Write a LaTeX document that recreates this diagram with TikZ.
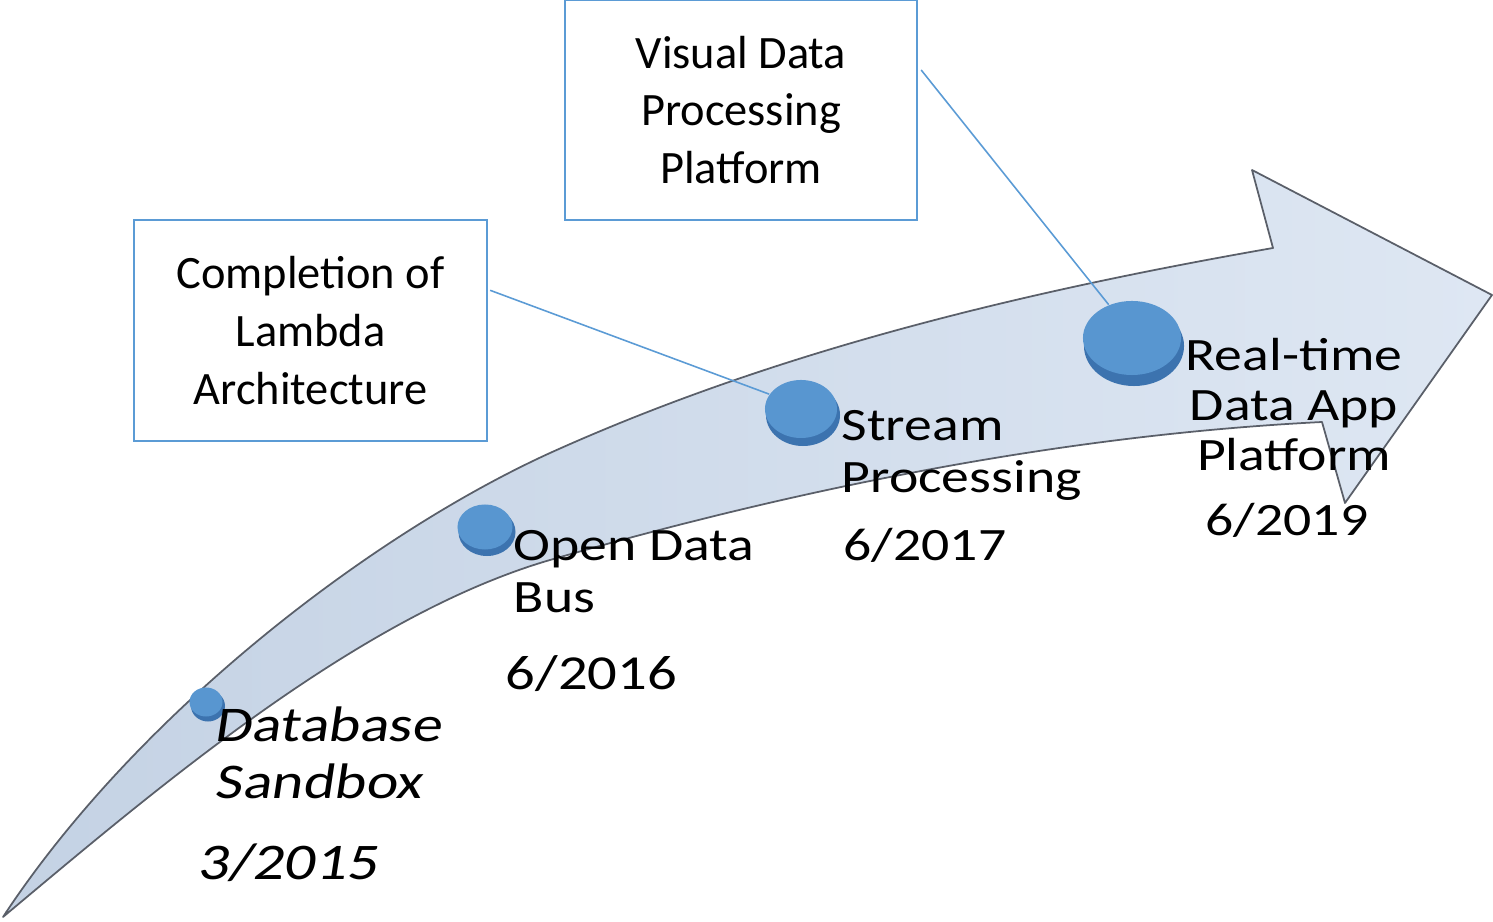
\documentclass[tikz,border=0pt]{standalone}
\usepackage{fontspec}
\setmainfont{Carlito}
\newfontfamily\widefont[FakeStretch=1.2]{Carlito}
\newfontfamily\wideslant[FakeStretch=1.2,FakeSlant=0.15]{Carlito}
\usetikzlibrary{shapes.geometric,calc}
\definecolor{boxblue}{RGB}{91,155,213}
\definecolor{arrowA}{RGB}{196,210,228}
\definecolor{arrowB}{RGB}{222,231,243}
\definecolor{discblue}{RGB}{88,150,208}
\definecolor{discdark}{RGB}{60,115,175}
\definecolor{edgegray}{RGB}{90,95,105}
\begin{document}
\begin{tikzpicture}[x=0.01cm,y=-0.01cm,
  infobox/.style={draw=boxblue, line width=0.6pt, inner sep=0pt, align=center,
    font=\fontsize{13.2}{16.4}\selectfont},
  leader/.style={draw=boxblue, line width=0.45pt},
  disc/.style={ellipse, inner sep=0pt, fill=discblue},
  discrim/.style={ellipse, inner sep=0pt, fill=discdark},
  lbl/.style={inner sep=0pt, anchor=north west, align=left,
    font=\widefont\fontsize{13.2}{14.7}\selectfont},
  lblc/.style={inner sep=0pt, anchor=north, align=center,
    font=\widefont\fontsize{13.2}{14.1}\selectfont},
]
\useasboundingbox (0,0) rectangle (1493,922);

% curved arrow
\path[left color=arrowA, right color=arrowB, draw=edgegray, line width=0.5pt, line join=round]
  (3,917) .. controls (135,716) and (368,536) .. (550,453)
  .. controls (778,350) and (1027,291) .. (1273,248)
  -- (1252,170) -- (1492,295) -- (1345,503) -- (1322,422)
  .. controls (1063,435) and (800,488) .. (550,560)
  .. controls (358,616) and (156,789) .. (3,917)
  -- cycle;

% discs
\node[discrim, minimum width=0.34cm, minimum height=0.31cm] at (208,706) {};
\node[disc, minimum width=0.33cm, minimum height=0.29cm] (c1) at (206,702) {};
\node[discrim, minimum width=0.57cm, minimum height=0.48cm] at (487,532) {};
\node[disc, minimum width=0.55cm, minimum height=0.45cm] (c2) at (485,527) {};
\node[discrim, minimum width=0.74cm, minimum height=0.62cm] at (803,415) {};
\node[disc, minimum width=0.72cm, minimum height=0.58cm] (c3) at (801,409) {};
\node[discrim, minimum width=1.00cm, minimum height=0.80cm] at (1134,346) {};
\node[disc, minimum width=0.98cm, minimum height=0.74cm] (c4) at (1132,338) {};

% labels on the arrow
\node[lbl, font=\wideslant\fontsize{14.2}{16.2}\selectfont] (l1) at (214,706) {Database\\Sandbox};
\node[lbl, font=\wideslant\fontsize{14.6}{16}\selectfont] (d1) at (197,843) {3/2015};
\node[lbl] (l2) at (513,530) {Open Data\\Bus};
\node[lbl, font=\widefont\fontsize{13.9}{15}\selectfont] (d2) at (505,655) {6/2016};
\node[lbl] (l3) at (841,410) {Stream\\Processing};
\node[lbl] (d3) at (843,528) {6/2017};
\node[lblc] (l4) at (1294,338) {Real-time\\Data App\\Platform};
\node[lbl] (d4) at (1205,503) {6/2019};

% info boxes
\node[infobox, minimum width=3.53cm, minimum height=2.21cm] (b1) at (310.5,330.5) {Completion of\\Lambda\\Architecture};
\node[infobox, minimum width=3.52cm, minimum height=2.20cm] (b2) at (741,110) {Visual Data\\Processing\\Platform};

% leader lines
\coordinate (s1) at ($(b1.north east)!0.32!(b1.south east)$);
\coordinate (s2) at ($(b2.north east)!0.32!(b2.south east)$);
\draw[leader] ([xshift=0.02cm]s1) -- (c3.155);
\draw[leader] ([xshift=0.03cm]s2) -- (c4.125);
\end{tikzpicture}
\end{document}
